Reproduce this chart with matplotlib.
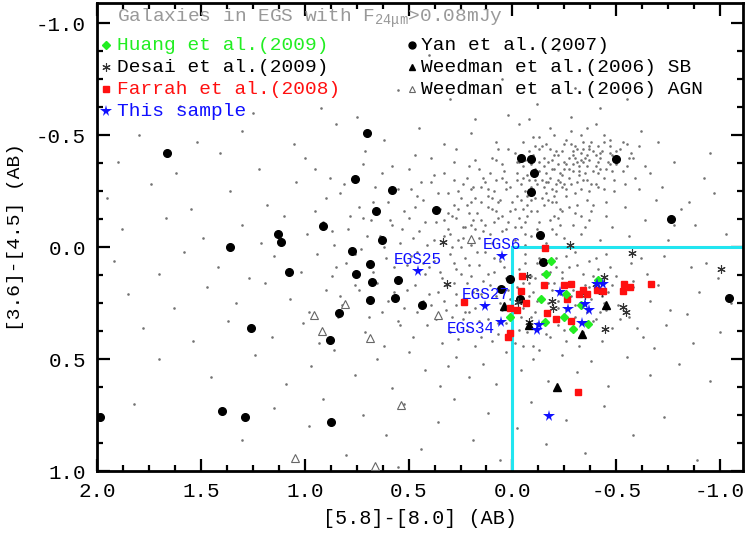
import numpy as np
import matplotlib
matplotlib.use("Agg")
import matplotlib.pyplot as plt

plt.rcParams['font.family'] = ['Liberation Mono', 'DejaVu Sans']
plt.rcParams['mathtext.fontset'] = 'custom'
plt.rcParams['mathtext.rm'] = 'Liberation Mono'
plt.rcParams['mathtext.it'] = 'Liberation Mono'

# background EGS galaxies (F24 > 0.08 mJy)
egs_field = [
    (0.92,-0.62),(0.55,-0.70),(0.30,-0.66),(0.05,-0.75),(-0.12,-0.64),(-0.30,-0.71),(-0.42,-0.62),
    (0.75,-0.58),(1.25,-0.60),(-0.22,-0.88),(0.18,-0.57),(-0.55,-0.66),(1.60,-0.63),(0.40,-0.86),
    (1.80,-0.50),(1.52,-0.47),(1.30,-0.52),(1.05,-0.46),(0.85,-0.55),(0.62,-0.48),(0.45,-0.53),
    (0.33,-0.46),(0.20,-0.51),(0.08,-0.47),(-0.03,-0.55),(-0.10,-0.49),(-0.18,-0.53),(-0.25,-0.46),
    (-0.33,-0.50),(-0.40,-0.55),(-0.47,-0.48),(-0.55,-0.46),(-0.62,-0.52),(-0.70,-0.47),(-0.28,-0.58),
    (-0.14,-0.45),(0.02,-0.59),(-0.37,-0.45),(-0.08,-0.57),
    (1.90,-0.38),(1.62,-0.33),(1.41,-0.42),(1.22,-0.35),(1.00,-0.40),(0.88,-0.31),(0.71,-0.43),
    (0.58,-0.36),(0.47,-0.41),(0.38,-0.32),(0.27,-0.44),(0.21,-0.36),(0.14,-0.31),(0.10,-0.40),
    (0.04,-0.34),(-0.01,-0.42),(-0.05,-0.31),(-0.09,-0.37),(-0.13,-0.44),(-0.16,-0.33),(-0.19,-0.39),
    (-0.22,-0.30),(-0.24,-0.43),(-0.27,-0.35),(-0.29,-0.41),(-0.32,-0.32),(-0.34,-0.38),(-0.37,-0.44),
    (-0.39,-0.34),(-0.42,-0.40),(-0.44,-0.31),(-0.47,-0.37),(-0.50,-0.43),(-0.53,-0.34),(-0.58,-0.40),
    (-0.66,-0.33),(-0.78,-0.38),(-0.92,-0.31),(-0.20,-0.35),(-0.30,-0.45),(-0.11,-0.30),(-0.36,-0.36),
    (-0.25,-0.38),(-0.41,-0.45),(-0.15,-0.40),(0.07,-0.44),(-0.06,-0.39),
    (1.95,-0.22),(1.74,-0.28),(1.55,-0.17),(1.36,-0.25),(1.18,-0.19),(1.04,-0.29),(0.95,-0.16),
    (0.83,-0.24),(0.74,-0.18),(0.66,-0.27),(0.60,-0.20),(0.52,-0.16),(0.49,-0.26),(0.43,-0.21),
    (0.39,-0.29),(0.35,-0.17),(0.31,-0.24),(0.28,-0.19),(0.24,-0.28),(0.21,-0.15),(0.18,-0.22),
    (0.15,-0.27),(0.12,-0.18),(0.09,-0.25),(0.06,-0.21),(0.03,-0.29),(0.01,-0.16),(-0.02,-0.23),
    (-0.04,-0.28),(-0.07,-0.19),(-0.10,-0.26),(-0.12,-0.16),(-0.14,-0.22),(-0.17,-0.29),(-0.19,-0.20),
    (-0.21,-0.25),(-0.23,-0.17),(-0.26,-0.23),(-0.28,-0.28),(-0.31,-0.19),(-0.33,-0.26),(-0.36,-0.21),
    (-0.38,-0.16),(-0.41,-0.27),(-0.45,-0.20),(-0.49,-0.25),(-0.54,-0.18),(-0.61,-0.26),(-0.69,-0.21),
    (-0.81,-0.17),(-0.97,-0.24),(0.26,-0.25),(0.13,-0.29),(-0.05,-0.17),(-0.16,-0.24),(0.08,-0.16),
    (-0.30,-0.15),(0.46,-0.23),(0.20,-0.26),(-0.09,-0.21),(-0.24,-0.27),
    (1.88,-0.08),(1.67,-0.13),(1.49,-0.04),(1.30,-0.10),(1.21,-0.02),(1.10,-0.14),(0.99,-0.06),
    (0.91,-0.11),(0.86,-0.01),(0.79,-0.08),(0.72,-0.13),(0.64,-0.05),(0.58,-0.10),(0.54,-0.02),
    (0.50,-0.13),(0.45,-0.07),(0.41,-0.01),(0.37,-0.11),(0.33,-0.05),(0.29,-0.14),(0.26,-0.03),
    (0.23,-0.09),(0.19,-0.12),(0.16,-0.04),(0.13,-0.10),(0.10,-0.02),(0.07,-0.13),(0.05,-0.07),
    (0.02,-0.11),(-0.01,-0.03),(-0.04,-0.09),(-0.07,-0.14),(-0.09,-0.05),(-0.13,-0.11),(-0.16,-0.02),
    (-0.19,-0.08),(-0.22,-0.13),(-0.25,-0.04),(-0.29,-0.10),(-0.33,-0.06),(-0.37,-0.12),(-0.42,-0.03),
    (-0.48,-0.09),(-0.56,-0.05),(-0.64,-0.12),(-0.75,-0.03),(-0.88,-0.10),(-1.03,-0.06),(0.68,-0.12),
    (0.31,-0.08),(0.11,-0.06),(-0.06,-0.01),(-0.20,-0.14),(0.48,-0.04),(0.20,-0.01),
    (1.92,0.06),(1.70,0.12),(1.58,0.02),(1.42,0.09),(1.27,0.14),(1.15,0.04),(1.02,0.11),
    (0.94,0.03),(0.87,0.13),(0.80,0.07),(0.73,0.01),(0.67,0.11),(0.61,0.05),(0.56,0.14),
    (0.51,0.08),(0.46,0.02),(0.42,0.12),(0.38,0.06),(0.34,0.14),(0.30,0.03),(0.27,0.10),
    (0.23,0.05),(0.20,0.13),(0.16,0.08),(0.13,0.02),(0.09,0.11),(0.06,0.06),(0.03,0.14),
    (0.00,0.04),(-0.03,0.10),(-0.06,0.03),(-0.09,0.13),(-0.12,0.07),(-0.15,0.01),(-0.18,0.11),
    (-0.21,0.05),(-0.24,0.14),(-0.27,0.09),(-0.30,0.02),(-0.34,0.12),(-0.37,0.06),(-0.41,0.10),
    (-0.45,0.03),(-0.50,0.13),(-0.57,0.07),(-0.65,0.12),(-0.73,0.04),(-0.86,0.09),(-0.99,0.14),
    (0.77,0.12),(0.25,0.00),(-0.11,0.14),(-0.28,0.00),(0.40,0.09),(-0.40,0.15),
    (1.85,0.21),(1.63,0.27),(1.47,0.18),(1.33,0.25),(1.19,0.16),(1.07,0.23),(0.98,0.29),
    (0.90,0.19),(0.82,0.26),(0.76,0.17),(0.70,0.24),(0.63,0.29),(0.57,0.20),(0.52,0.27),
    (0.47,0.17),(0.43,0.24),(0.36,0.20),(0.32,0.28),(0.28,0.16),(0.24,0.23),(0.21,0.29),
    (0.17,0.19),(0.14,0.26),(0.11,0.17),(0.08,0.22),(0.05,0.28),(0.02,0.19),(-0.02,0.25),
    (-0.05,0.16),(-0.08,0.22),(-0.11,0.29),(-0.14,0.18),(-0.17,0.25),(-0.20,0.16),(-0.23,0.21),
    (-0.26,0.28),(-0.29,0.19),(-0.32,0.26),(-0.35,0.17),(-0.38,0.23),(-0.42,0.29),(-0.46,0.20),
    (-0.51,0.26),(-0.58,0.18),(-0.66,0.24),(-0.76,0.28),(-0.90,0.20),(0.39,0.26),(0.15,0.21),
    (-0.12,0.24),(-0.31,0.22),(-0.44,0.25),(0.01,0.23),(-0.22,0.27),(0.27,0.21),
    (1.78,0.36),(1.54,0.42),(1.37,0.33),(1.16,0.40),(1.01,0.34),(0.93,0.43),(0.84,0.31),
    (0.71,0.38),(0.62,0.44),(0.55,0.33),(0.48,0.40),(0.41,0.35),(0.34,0.43),(0.29,0.31),
    (0.22,0.37),(0.18,0.44),(0.12,0.32),(0.07,0.39),(0.03,0.34),(-0.01,0.43),(-0.04,0.31),
    (-0.07,0.38),(-0.10,0.44),(-0.15,0.33),(-0.18,0.40),(-0.22,0.35),(-0.26,0.42),(-0.30,0.31),
    (-0.34,0.38),(-0.39,0.33),(-0.43,0.42),(-0.48,0.36),(-0.56,0.31),(-0.63,0.40),(-0.74,0.35),
    (-0.87,0.43),(0.26,0.41),(-0.12,0.36),(-0.28,0.37),(0.10,0.42),
    (1.70,0.50),(1.45,0.58),(1.24,0.48),(1.09,0.61),(0.97,0.53),(0.86,0.46),(0.76,0.57),
    (0.65,0.50),(0.58,0.63),(0.50,0.47),(0.42,0.55),(0.35,0.62),(0.27,0.49),(0.21,0.58),
    (0.14,0.52),(0.08,0.61),(0.03,0.47),(-0.04,0.55),(-0.10,0.50),(-0.17,0.60),(-0.24,0.48),
    (-0.31,0.56),(-0.38,0.51),(-0.46,0.62),(-0.55,0.49),(-0.66,0.57),(-0.80,0.52),(-0.95,0.60),
    (0.31,0.53),(-0.13,0.46),
    (1.82,0.70),(1.30,0.86),(1.15,0.72),(0.98,0.80),(0.91,0.68),(0.80,0.93),(0.72,0.75),
    (0.61,0.84),(0.52,0.70),(0.44,0.90),(0.36,0.78),(0.28,0.68),(0.19,0.86),(0.12,0.74),
    (0.06,0.95),(-0.02,0.81),(-0.09,0.69),(-0.16,0.88),(-0.26,0.77),(-0.35,0.92),(-0.44,0.71),
    (-0.58,0.84),(-0.73,0.76),(-0.89,0.95),(0.55,0.98),
    # dense tongue towards the upper right
    (0.15,-0.12),(0.10,-0.17),(0.05,-0.14),(0.00,-0.20),(-0.03,-0.13),(-0.06,-0.25),(-0.08,-0.30),
    (-0.11,-0.22),(-0.13,-0.34),(-0.15,-0.27),(-0.18,-0.31),(-0.20,-0.23),(-0.22,-0.37),(-0.24,-0.32),
    (-0.26,-0.26),(-0.27,-0.40),(-0.29,-0.34),(-0.31,-0.29),(-0.33,-0.42),(-0.35,-0.33),(-0.37,-0.39),
    (-0.38,-0.28),(-0.40,-0.36),(-0.43,-0.43),(-0.45,-0.35),(-0.48,-0.41),(-0.02,-0.33),(0.03,-0.26),
    (0.08,-0.30),(-0.10,-0.41),(-0.17,-0.38),(-0.21,-0.43),(-0.28,-0.46),(-0.34,-0.47),(-0.12,-0.28),
    (-0.23,-0.29),(-0.32,-0.36),(-0.19,-0.26),(0.12,-0.23),(0.18,-0.08),(-0.01,-0.09),(-0.07,-0.32),
    (-0.25,-0.35),(-0.36,-0.30),(-0.41,-0.38),
    (0.30,-0.06),(0.27,-0.13),(0.24,-0.04),(0.22,-0.19),(0.19,-0.27),(0.17,-0.15),(0.14,-0.07),
    (0.11,-0.33),(0.09,-0.11),(0.07,-0.20),(0.05,-0.37),(0.03,-0.08),(0.01,-0.27),(-0.01,-0.17),
    (-0.03,-0.38),(-0.04,-0.21),(-0.06,-0.11),(-0.08,-0.43),(-0.09,-0.16),(-0.11,-0.35),(-0.12,-0.08),
    (-0.14,-0.30),(-0.15,-0.19),(-0.16,-0.46),(-0.18,-0.12),(-0.19,-0.35),(-0.21,-0.20),(-0.22,-0.41),
    (-0.23,-0.10),(-0.25,-0.28),(-0.26,-0.48),(-0.27,-0.18),(-0.29,-0.37),(-0.30,-0.24),(-0.31,-0.44),
    (-0.33,-0.14),(-0.34,-0.30),(-0.35,-0.40),(-0.37,-0.25),(-0.38,-0.47),(-0.39,-0.19),(-0.41,-0.33),
    (-0.42,-0.42),(-0.44,-0.26),(-0.46,-0.38),(-0.47,-0.45),(-0.49,-0.30),(-0.51,-0.40),(-0.53,-0.47),
    (-0.55,-0.36),(-0.57,-0.42),(-0.59,-0.31),(-0.61,-0.45),(0.20,-0.10),(0.12,-0.26),(0.02,-0.44),
    (-0.05,-0.47),(-0.13,-0.49),(-0.20,-0.50),(-0.28,-0.52),(-0.36,-0.53),(-0.44,-0.50),(0.16,-0.35),
    (0.08,-0.39),(-0.02,-0.30),(-0.10,-0.24),(-0.17,-0.21),(-0.24,-0.16),(-0.32,-0.34),(-0.40,-0.28),
    (-0.48,-0.34),(-0.54,-0.28),(0.25,-0.22),(0.33,-0.12),(0.28,-0.30),(-0.06,-0.06),(-0.14,-0.04),
    (-0.21,-0.06),(-0.35,-0.09),(-0.45,-0.14),
    (-0.05,-0.36),(-0.09,-0.27),(-0.13,-0.38),(-0.16,-0.29),(-0.20,-0.41),(-0.23,-0.33),(-0.26,-0.37),
    (-0.29,-0.43),(-0.31,-0.38),(-0.34,-0.44),(-0.36,-0.41),(-0.39,-0.43),(-0.42,-0.35),(-0.44,-0.47),
    (-0.47,-0.42),(-0.50,-0.37),(-0.52,-0.44),(-0.56,-0.40),(-0.18,-0.44),(-0.11,-0.45),(-0.02,-0.38),
    (0.05,-0.31),(0.10,-0.22),(-0.07,-0.23),(-0.15,-0.36),(-0.27,-0.31),(-0.33,-0.39),(-0.40,-0.41),
    (-0.21,-0.28),(-0.30,-0.40),
    # moderate density to the left of the cut
    (0.95,-0.35),(0.90,-0.22),(0.87,-0.07),(0.85,0.09),(0.83,0.22),(0.81,-0.28),(0.78,-0.14),
    (0.76,0.03),(0.74,0.19),(0.72,-0.37),(0.70,-0.05),(0.69,0.31),(0.67,-0.20),(0.65,0.16),
    (0.63,-0.33),(0.62,0.00),(0.60,0.24),(0.59,-0.12),(0.57,0.09),(0.55,-0.26),(0.54,0.35),
    (0.53,-0.08),(0.51,0.19),(0.50,-0.35),(0.49,0.04),(0.47,-0.18),(0.46,0.29),(0.44,-0.29),
    (0.43,0.07),(0.42,-0.11),(0.40,0.21),(0.39,-0.40),(0.38,-0.03),(0.37,0.32),(0.36,-0.24),
    (0.35,0.11),(0.33,-0.33),(0.32,0.17),(0.31,-0.15),(0.30,0.38),(0.29,-0.00),(0.28,-0.38),
    (0.27,0.26),(0.26,-0.17),(0.25,0.12),(0.24,-0.09),(0.23,0.29),(0.22,-0.31),(0.21,0.08),
    (0.20,-0.20),(0.19,0.20),(0.18,-0.39),(0.17,0.02),(0.16,0.33),(0.15,-0.20),(0.14,0.15),
    # sparse outskirts on the red side
    (-0.62,0.05),(-0.70,0.17),(-0.78,-0.10),(-0.84,0.30),(-0.93,0.07),(-1.00,0.38),(-0.68,0.45),
    (-0.60,0.36),(-0.72,-0.27),(-0.85,-0.20),(-0.95,-0.42),(-1.05,0.25),(-0.64,-0.36),(-0.58,0.15),
    # lower clump under the coloured points
    (-0.10,0.20),(-0.16,0.30),(-0.22,0.24),(-0.27,0.33),(-0.33,0.21),(-0.36,0.29),(-0.12,0.34),
    (-0.05,0.27),(-0.19,0.19),(-0.25,0.37),(-0.30,0.26),(-0.40,0.32),(-0.08,0.16),(0.00,0.30),
    (0.06,0.25),(-0.14,0.12),(-0.21,0.09),(-0.37,0.18),(-0.45,0.28),(-0.03,0.37),
    (0.28,0.07),(0.22,0.16),(0.18,0.27),(0.12,0.12),(0.07,0.34),(0.04,0.09),(-0.02,0.18),
    (-0.06,0.07),(-0.09,0.31),(-0.13,0.05),(-0.17,0.16),(-0.20,0.33),(-0.24,0.11),(-0.28,0.22),
    (-0.31,0.08),(-0.35,0.34),(-0.39,0.13),(-0.43,0.22),(-0.47,0.09),(-0.52,0.32),(0.33,0.24),
    (0.15,0.40),(-0.05,0.44),(-0.32,0.44),(0.24,0.32),(-0.16,0.39),(-0.48,0.17),(0.09,0.05),
    (-0.26,0.04),(-0.40,0.05),
]

# Yan et al. (2007)
yan_x = [1.663, 1.359, 1.128, 1.113, 1.075, 1.258, 1.986, 1.398, 1.287, 0.872,
         0.702, 0.760, 0.578, 0.655, 0.366, 0.914, 0.630, 0.771, 0.686, 0.752,
         0.678, 0.549, 0.686, 0.567, 0.437, 0.834, 0.877, 0.014, 0.053, -0.040,
         -0.087, -0.103, -0.090, -0.132, -0.498, -0.763, -1.041, -0.148, -0.035]
yan_y = [-0.420, 0.000, -0.058, -0.022, 0.110, 0.360, 0.760, 0.730, 0.760, 0.780,
         -0.511, -0.306, -0.257, -0.163, -0.166, -0.094, -0.030, 0.018, 0.076, 0.122,
         0.154, 0.148, 0.235, 0.227, 0.259, 0.295, 0.416, 0.143, 0.187, -0.399,
         -0.393, -0.329, -0.244, -0.055, -0.393, -0.127, 0.229, 0.066, 0.232]

# Desai et al. (2009)
desai_x = [0.336, 0.315, -0.276, -0.577, -1.006, -0.440, -0.432, -0.533, -0.545, -0.448,
           -0.071, -0.191, -0.194, -0.349, -0.080, -0.026, -0.400]
desai_y = [-0.022, 0.167, -0.008, 0.025, 0.099, 0.133, 0.200, 0.268, 0.290, 0.365,
           0.127, 0.242, 0.272, 0.212, 0.335, 0.244, 0.163]

# Weedman et al. (2006) starbursts
wsb_x = [0.040, -0.082, -0.336, -0.450, -0.214]
wsb_y = [0.262, 0.347, 0.390, 0.259, 0.626]

# Weedman et al. (2006) AGN
wagn_x = [0.198, 0.808, 0.956, 0.358, 0.917, 0.684, 0.535, 1.046, 0.662]
wagn_y = [-0.037, 0.254, 0.303, 0.303, 0.375, 0.405, 0.704, 0.940, 0.978]

# Farrah et al. (2008)
farrah_x = [-0.157, -0.045, -0.151, -0.039, 0.235, -0.063, 0.010, -0.022, -0.247, -0.281,
            -0.263, -0.320, -0.339, -0.360, -0.408, -0.437, -0.167, -0.209, -0.281, 0.010,
            0.023, -0.537, -0.566, -0.533, -0.665, -0.318]
farrah_y = [0.003, 0.129, 0.170, 0.196, 0.245, 0.250, 0.270, 0.283, 0.170, 0.163,
            0.232, 0.208, 0.193, 0.211, 0.193, 0.197, 0.293, 0.320, 0.330, 0.384,
            0.402, 0.163, 0.178, 0.196, 0.166, 0.646]

# Huang et al. (2009)
huang_x = [-0.185, -0.161, -0.259, -0.138, 0.014, -0.157, -0.247, -0.292, -0.328, -0.363, -0.410]
huang_y = [0.061, 0.121, 0.209, 0.230, 0.312, 0.333, 0.312, 0.368, 0.260, 0.345, 0.148]

# this sample
ours_x = [0.051, 0.454, 0.130, 0.054, -0.228, -0.268, -0.347, -0.368, -0.336, -0.130,
          -0.119, -0.408, -0.437, -0.177]
ours_y = [0.040, 0.105, 0.262, 0.333, 0.202, 0.277, 0.253, 0.283, 0.339, 0.350,
          0.369, 0.167, 0.163, 0.753]
named = {"EGS6": 0, "EGS25": 1, "EGS27": 2, "EGS34": 3}

# colour cuts
cut_x = 0.0
cut_y = 0.0

gx, gy = np.array(egs_field).T

fig = plt.figure(figsize=(7.47, 5.35), dpi=100)
ax = fig.add_axes([0.130, 0.1196, 0.8646, 0.8748])

ax.scatter(gx, gy, s=3.5, c='#737373', linewidths=0, zorder=1)

ax.plot([cut_x, cut_x], [cut_y, 1.2], color='#22e5f0', lw=2.2, zorder=2)
ax.plot([cut_x, -1.3], [cut_y, cut_y], color='#22e5f0', lw=2.2, zorder=2)

ax.plot(wagn_x, wagn_y, ls='none', marker='^', ms=5.5, mfc='white', mec='#666666', mew=0.8, zorder=3)
ax.plot(yan_x, yan_y, ls='none', marker='o', ms=5.5, color='black', zorder=3)
ax.plot(desai_x, desai_y, ls='none', marker=(6, 2, 0), ms=6, color='#333333', mew=0.8, zorder=3)
ax.plot(wsb_x, wsb_y, ls='none', marker='^', ms=5.5, color='black', zorder=3)
ax.plot(farrah_x, farrah_y, ls='none', marker='s', ms=5, color='#ff1010', zorder=4)
ax.plot(huang_x, huang_y, ls='none', marker='D', ms=4, color='#22ee22', zorder=4)
ax.plot(ours_x, ours_y, ls='none', marker='*', ms=8.5, color='#1010ff', mew=0, zorder=5)

label_offset = {"EGS6": (0, 8), "EGS25": (0, 8), "EGS27": (0, 8), "EGS34": (-22, -5)}
for name, i in named.items():
    ax.annotate(name, (ours_x[i], ours_y[i]), xytext=label_offset[name],
                textcoords='offset points', ha='center', va='center',
                color='#1010ff', fontsize=11.5, zorder=6)

ax.set_xlim(2.0, -1.11)
ax.set_ylim(1.0, -1.09)
ax.set_xticks([2.0, 1.5, 1.0, 0.5, 0.0, -0.5, -1.0])
ax.set_xticklabels(['2.0', '1.5', '1.0', '0.5', '0.0', '-0.5', '-1.0'])
ax.set_yticks([-1.0, -0.5, 0.0, 0.5, 1.0])
ax.set_yticklabels(['-1.0', '-0.5', '0.0', '0.5', '1.0'])
ax.set_xticks(np.arange(-1.0, 2.01, 0.125), minor=True)
ax.set_yticks(np.arange(-1.0, 1.01, 0.125), minor=True)
ax.tick_params(which='both', direction='in', top=True, right=True, width=1.6, labelsize=15, pad=8)
ax.tick_params(which='major', length=9)
ax.tick_params(which='minor', length=4.5)
for sp in ax.spines.values():
    sp.set_linewidth(2)

ax.set_xlabel('[5.8]-[8.0] (AB)', fontsize=14.5, labelpad=6)
ax.set_ylabel('[3.6]-[4.5] (AB)', fontsize=14)
ax.yaxis.set_label_coords(-0.113, 0.5)

# legend, laid out like the IDL original
lg = dict(transform=ax.transAxes, fontsize=14, va='center', ha='left')
ax.text(0.031, 0.968, r'Galaxies in EGS with F$_{24\mu m}$>0.08mJy', color='#999999', **lg)
left_rows = [0.910, 0.863, 0.816, 0.769]
right_rows = [0.910, 0.863, 0.816]
ax.plot(0.014, left_rows[0], marker='D', ms=4, color='#22ee22', transform=ax.transAxes)
ax.text(0.031, left_rows[0], 'Huang et al.(2009)', color='#22ee22', **lg)
ax.plot(0.014, left_rows[1], marker=(6, 2, 0), ms=6, color='#333333', mew=0.8, transform=ax.transAxes)
ax.text(0.031, left_rows[1], 'Desai et al.(2009)', color='black', **lg)
ax.plot(0.014, left_rows[2], marker='s', ms=5, color='#ff1010', transform=ax.transAxes)
ax.text(0.031, left_rows[2], 'Farrah et al.(2008)', color='#ff1010', **lg)
ax.plot(0.014, left_rows[3], marker='*', ms=8.5, color='#1010ff', mew=0, transform=ax.transAxes)
ax.text(0.031, left_rows[3], 'This sample', color='#1010ff', **lg)
ax.plot(0.488, right_rows[0], marker='o', ms=5, color='black', transform=ax.transAxes)
ax.text(0.502, right_rows[0], 'Yan et al.(2007)', color='black', **lg)
ax.plot(0.488, right_rows[1], marker='^', ms=5, color='black', transform=ax.transAxes)
ax.text(0.502, right_rows[1], 'Weedman et al.(2006) SB', color='black', **lg)
ax.plot(0.488, right_rows[2], marker='^', ms=5, mfc='white', mec='#666666', mew=0.8, transform=ax.transAxes)
ax.text(0.502, right_rows[2], 'Weedman et al.(2006) AGN', color='black', **lg)

fig.savefig('out.png', dpi=100)
